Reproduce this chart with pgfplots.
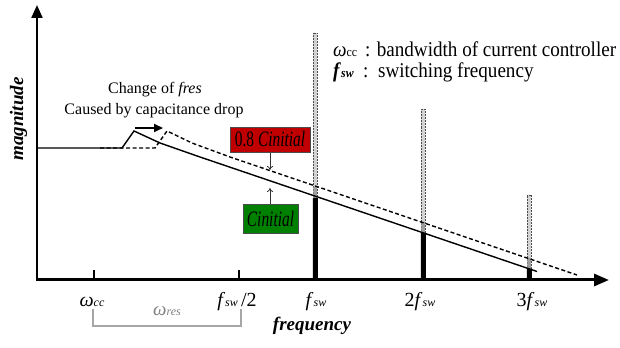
\documentclass[border=0pt]{standalone}
\usepackage{fontspec}
\setmainfont{Liberation Serif}
\usepackage{graphicx}
\usepackage{pgfplots}
\pgfplotsset{compat=1.18}
\usetikzlibrary{arrows.meta}
\definecolor{boxred}{RGB}{192,0,0}
\definecolor{boxgreen}{RGB}{0,128,0}
\newcommand{\fs}[1]{\fontsize{#1bp}{#1bp}\selectfont}
\newcommand{\fsw}{\textit{f}{\fs{12}\textit{sw}}}
\begin{document}
\begin{tikzpicture}
\begin{axis}[
  scale only axis, width=620bp, height=348bp,
  xmin=0, xmax=620, ymin=-68, ymax=280,
  hide axis, clip=false,
]
% grey (dotted) harmonic bars
\addplot[ybar, bar width=3.5bp, bar shift=0pt, fill=gray!35, draw=gray!60!black, densely dotted, line width=0.5bp]
  coordinates {(315,247) (423,171) (529,85)};
\addplot[ybar, bar width=3.5bp, bar shift=0pt, fill=gray!75, draw=none]
  coordinates {(315,93) (423,58) (529,22)};
\addplot[ybar, bar width=4.5bp, bar shift=0pt, fill=black, draw=black, line width=0.3bp]
  coordinates {(315,82) (423,47) (529,11)};
% magnitude curves
\addplot[black, line width=1.4bp] coordinates {(37,132) (122,132) (134,149) (160,137) (200,123) (537,8.5)};
\addplot[black, line width=1.4bp, dash pattern=on 4bp off 2.5bp] coordinates {(100,132) (155,132) (167,149) (192,137) (230,123) (577,5)};
% axes
\addplot[black, line width=2.2bp, -{Triangle[length=13bp,width=11bp]}] coordinates {(37,-1.5) (37,275)};
\addplot[black, line width=3bp, -{Triangle[length=15bp,width=12bp]}] coordinates {(35.9,0) (609,0)};
% ticks
\addplot[black, line width=1.2bp] coordinates {(94,0) (94,10)};
\addplot[black, line width=1.2bp] coordinates {(239,0) (239,10)};
% bracket
\addplot[gray!70, line width=1.2bp] coordinates {(93,-29) (93,-46) (241,-46) (241,-29)};
% shift arrow
\addplot[black, line width=1.8bp, -{Triangle[length=9bp,width=8bp]}] coordinates {(135,152) (163,152)};
% box arrows
\addplot[black!80, line width=0.8bp, -{To[length=4bp,width=6bp]}] coordinates {(270,128) (270,110)};
\addplot[black!80, line width=0.8bp, -{To[length=4bp,width=6bp]}] coordinates {(270,76) (270,92)};
% boxes
\node[fill=boxred, draw=black!70, line width=0.6bp, minimum width=80bp, minimum height=25bp, inner sep=0pt] at (axis cs:270,140.5)
  {\fs{22}\scalebox{0.7}[1]{0.8 \textit{Cinitial}}};
\node[fill=boxgreen, draw=black!70, line width=0.6bp, minimum width=55bp, minimum height=29bp, inner sep=0pt] at (axis cs:270.5,61.5)
  {\fs{22}\scalebox{0.7}[1]{\textit{Cinitial}}};
% annotation
\node[anchor=base, font=\fs{16}] at (axis cs:155,186) {Change of \textit{fres}};
\node[anchor=base, font=\fs{16}] at (axis cs:154,165) {Caused by capacitance drop};
% legend text
\node[anchor=base west, inner sep=0pt] at (axis cs:333,223)
  {\fs{21}\scalebox{0.91}[1]{\textit{ω}{\fs{13}cc}\ \,: bandwidth of current controller}};
\node[anchor=base west, inner sep=0pt] at (axis cs:333,202)
  {\fs{21}\scalebox{0.91}[1]{\textbf{\textit{f}}{\fs{13}\textbf{\textit{sw}}}\ \ :\ \ switching frequency}};
% tick labels
\node[anchor=base, font=\fs{20}] at (axis cs:92,-27) {\textit{ω}{\fs{12}\textit{cc}}};
\node[anchor=base, font=\fs{20}] at (axis cs:237,-27) {\fsw\,/2};
\node[anchor=base, font=\fs{20}] at (axis cs:316,-27) {\fsw};
\node[anchor=base, font=\fs{20}] at (axis cs:420,-27) {2\fsw};
\node[anchor=base, font=\fs{20}] at (axis cs:532,-27) {3\fsw};
\node[anchor=base, font=\fs{19}, text=gray] at (axis cs:167,-36) {\textit{ω}{\fs{12}\textit{res}}};
% axis titles
\node[anchor=base, font=\fs{19}\bfseries\itshape] at (axis cs:312,-50) {frequency};
\node[anchor=base, rotate=90, font=\fs{19}\bfseries\itshape] at (axis cs:23,161) {magnitude};
\end{axis}
\pgfresetboundingbox
\path (0,0) rectangle (620bp,348bp);
\end{tikzpicture}
\end{document}
